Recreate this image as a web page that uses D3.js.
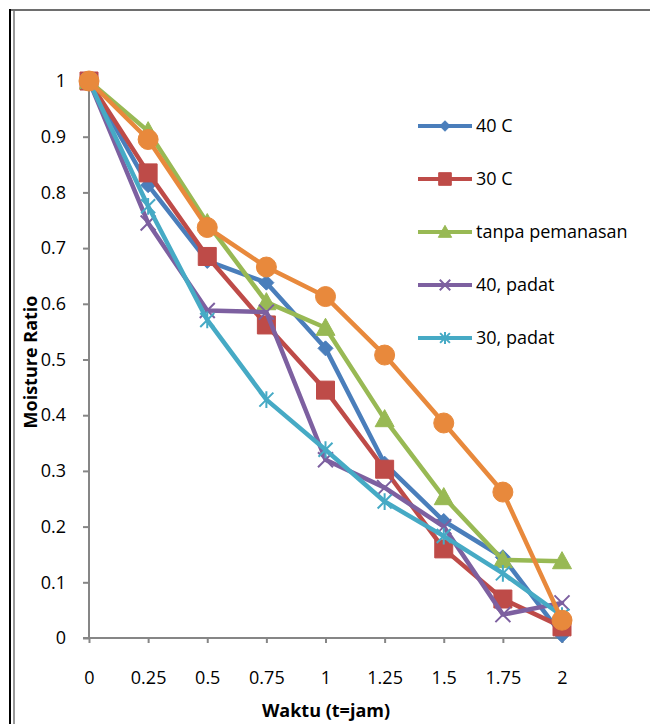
<!DOCTYPE html>
<html>
<head>
<meta charset="utf-8">
<script src="https://cdn.jsdelivr.net/npm/d3@7"></script>
<style>
  body { margin: 0; background: #fff; }
  text { font-family: "Open Sans", sans-serif; }
</style>
</head>
<body>
<figure id="chart" style="margin:0"></figure>
<script>
// data
const times = [0, 0.25, 0.5, 0.75, 1, 1.25, 1.5, 1.75, 2];
const c40 = [1, 0.813, 0.677, 0.638, 0.52, 0.313, 0.21, 0.145, 0.005];
const c30 = [1, 0.835, 0.685, 0.562, 0.445, 0.303, 0.16, 0.07, 0.02];
const tanpa = [1, 0.91, 0.745, 0.603, 0.557, 0.393, 0.253, 0.14, 0.138];
const padat40 = [1, 0.745, 0.588, 0.585, 0.32, 0.27, 0.2, 0.042, 0.063];
const padat30 = [1, 0.775, 0.571, 0.428, 0.338, 0.245, 0.183, 0.116, 0.04];
const seri6 = [1, 0.895, 0.737, 0.666, 0.613, 0.508, 0.386, 0.262, 0.032];
const seriesNames = ["40 C", "30 C", "tanpa pemanasan", "40, padat", "30, padat", ""];
const yTicks = [0, 0.1, 0.2, 0.3, 0.4, 0.5, 0.6, 0.7, 0.8, 0.9, 1];
const xTicks = times;

const series = [
  { name: seriesNames[0], values: c40, color: "#4a7ebb", marker: "diamond" },
  { name: seriesNames[1], values: c30, color: "#be4b48", marker: "square" },
  { name: seriesNames[2], values: tanpa, color: "#98b954", marker: "triangle" },
  { name: seriesNames[3], values: padat40, color: "#7d60a0", marker: "x" },
  { name: seriesNames[4], values: padat30, color: "#46aac5", marker: "star" },
  { name: seriesNames[5], values: seri6, color: "#e8893c", marker: "circle" }
];

const width = 650, height = 724;
const svg = d3.select("#chart").append("svg")
  .attr("width", width).attr("height", height);

// frame
svg.append("line").attr("x1", 9).attr("x2", width).attr("y1", 10).attr("y2", 10)
  .attr("stroke", "#6e6e6e").attr("stroke-width", 2);
svg.append("line").attr("x1", 10).attr("x2", 10).attr("y1", 9).attr("y2", height)
  .attr("stroke", "#000").attr("stroke-width", 2);
svg.append("line").attr("x1", 14).attr("x2", 14).attr("y1", 11).attr("y2", height)
  .attr("stroke", "#999").attr("stroke-width", 2);

const xScale = d3.scaleLinear().domain([0, 2]).range([89, 562]);
const yScale = d3.scaleLinear().domain([0, 1]).range([638, 81]);
const fmt = d => String(+d.toFixed(2));

const yAxis = svg.append("g").attr("transform", "translate(89,0)")
  .call(d3.axisLeft(yScale).tickValues(yTicks).tickFormat(fmt).tickSize(6).tickPadding(17));
const xAxis = svg.append("g").attr("transform", "translate(0,638)")
  .call(d3.axisBottom(xScale).tickValues(xTicks).tickFormat(fmt).tickSize(5).tickPadding(28));

[yAxis, xAxis].forEach(ax => {
  ax.select(".domain").attr("stroke", "#868686").attr("stroke-width", 2);
  ax.selectAll(".tick line").attr("stroke", "#868686").attr("stroke-width", 2);
  ax.selectAll(".tick text").attr("font-family", "Open Sans").attr("font-size", 18).attr("fill", "#000");
});
yAxis.select(".domain").attr("d", "M0,638V81");
xAxis.select(".domain").attr("d", "M83,0H562");

svg.append("text")
  .attr("transform", "translate(37,362) rotate(-90)")
  .attr("text-anchor", "middle").attr("font-size", 18).attr("font-weight", "bold")
  .text("Moisture Ratio");
svg.append("text")
  .attr("x", 326).attr("y", 717)
  .attr("text-anchor", "middle").attr("font-size", 18).attr("font-weight", "bold")
  .text("Waktu (t=jam)");

function markerPath(type, k) {
  if (type === "diamond") { const s = 7.5 * k; return `M0,${-s}L${s},0L0,${s}L${-s},0Z`; }
  if (type === "square") { const s = 9 * k; return `M${-s},${-s}H${s}V${s}H${-s}Z`; }
  if (type === "triangle") { const s = 9.5 * k; return `M0,${-s}L${s},${s * 0.8}L${-s},${s * 0.8}Z`; }
  if (type === "x") { const s = 7.5 * k; return `M${-s},${-s}L${s},${s}M${-s},${s}L${s},${-s}`; }
  if (type === "star") { const s = 7 * k; return `M${-s},${-s}L${s},${s}M${-s},${s}L${s},${-s}M0,${-s * 1.2}L0,${s * 1.2}`; }
  const r = 10 * k;
  return `M${r},0A${r},${r} 0 1,1 ${-r},0A${r},${r} 0 1,1 ${r},0Z`;
}
const isStroke = t => t === "x" || t === "star";

const line = d3.line().x((d, i) => xScale(times[i])).y(d => yScale(d));

series.forEach(s => {
  const g = svg.append("g");
  g.append("path").datum(s.values).attr("d", line)
    .attr("fill", "none").attr("stroke", s.color).attr("stroke-width", 4.5)
    .attr("stroke-linejoin", "round").attr("stroke-linecap", "round");
  g.selectAll("path.mk").data(s.values).enter().append("path")
    .attr("class", "mk")
    .attr("transform", (d, i) => `translate(${xScale(times[i])},${yScale(d)})`)
    .attr("d", markerPath(s.marker, 1))
    .attr("fill", isStroke(s.marker) ? "none" : s.color)
    .attr("stroke", s.color).attr("stroke-width", isStroke(s.marker) ? 2 : 1);
});

// legend (only the five named series)
const legendY = [126, 179, 232, 285, 338];
const legend = svg.append("g");
series.filter(s => s.name).forEach((s, i) => {
  const y = legendY[i];
  legend.append("line").attr("x1", 418).attr("x2", 472).attr("y1", y).attr("y2", y)
    .attr("stroke", s.color).attr("stroke-width", 4);
  legend.append("path").attr("transform", `translate(445,${y})`)
    .attr("d", markerPath(s.marker, 0.7))
    .attr("fill", isStroke(s.marker) ? "none" : s.color)
    .attr("stroke", s.color).attr("stroke-width", isStroke(s.marker) ? 2 : 1);
  legend.append("text").attr("x", 476).attr("y", y).attr("dy", "0.35em")
    .attr("font-size", 18).text(s.name);
});
</script>
</body>
</html>
